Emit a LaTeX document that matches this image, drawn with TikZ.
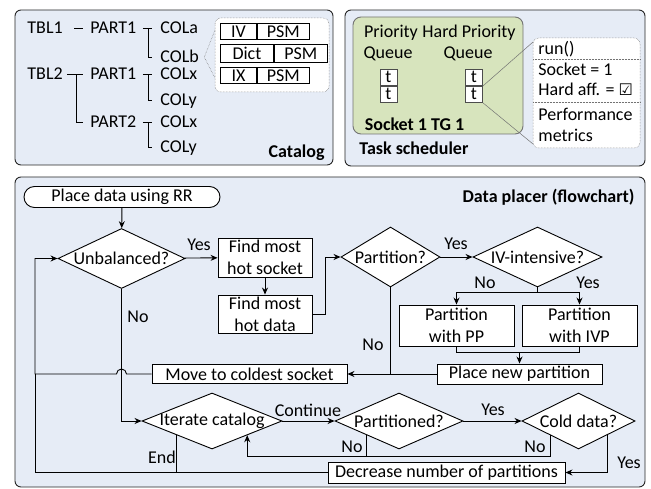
\documentclass[tikz,border=0pt]{standalone}
\usepackage{fontspec}
\setmainfont{Carlito}
\newfontfamily\checkfont{DejaVu Sans}
\usepackage{tikz}
\usetikzlibrary{arrows.meta}
\usetikzlibrary{shapes.geometric}
\usetikzlibrary{positioning}
\usetikzlibrary{calc}
\definecolor{panelblue}{RGB}{230,236,246}
\definecolor{tggreen}{RGB}{215,228,189}
\tikzset{>={Stealth[length=7pt,width=6pt]}, panel/.style={draw=black!85, fill=panelblue, rounded corners=6pt}, proc/.style={draw, fill=white, align=center}, dec/.style={diamond, draw, fill=white, aspect=1}, cellbox/.style={draw, fill=white, minimum height=16pt}, tcell/.style={draw=black!70, fill=white, minimum width=17pt, minimum height=16pt, text height=10pt, text depth=0pt}, callout/.style={draw=black!55, densely dotted, line width=0.5pt, fill=white, rounded corners=6pt}, colname/.style={anchor=base west, text height=11.6pt, text depth=0pt}}

\begin{document}
\begin{tikzpicture}[x=1pt, y=-1pt, line width=0.9pt, font=\fontsize{18}{22}\selectfont]
\tikzstyle{every node}+=[inner sep=0pt]
\useasboundingbox (0,0) rectangle (651,489);
\draw [panel] (15,10) rectangle (333,165);
\draw [panel] (345,10) rectangle (645,166);
\draw [panel] (15,177) rectangle (645,487);

\node [colname] (tbl1) at (27,34) {TBL1};
\node [colname] (p11) at (90,34) {PART1};
\node [colname] (cola) at (160,34) {COLa};
\node [colname] (colb) at (160,63) {COLb};
\node [colname] (tbl2) at (27,80) {TBL2};
\node [colname] (p21) at (90,80) {PART1};
\node [colname] (colx1) at (160,80) {COLx};
\node [colname] (coly1) at (160,106) {COLy};
\node [colname] (p22) at (90,128) {PART2};
\node [colname] (colx2) at (160,128) {COLx};
\node [colname] (coly2) at (160,153) {COLy};
\draw ([xshift=11pt]tbl1.east) -- ([xshift=-7pt]p11.west);
\draw ([xshift=6pt]p11.east) -- ([xshift=-8pt]cola.west);
\draw ($(p11.east)!0.5!(cola.west)$) |- ([xshift=-8pt]colb.west);
\draw ([xshift=4pt]tbl2.east) -- ([xshift=-7pt]p21.west);
\draw ($(tbl2.east)!0.5!(p21.west)$) |- ([xshift=-7pt]p22.west);
\draw ([xshift=6pt]p21.east) -- ([xshift=-8pt]colx1.west);
\draw ($(p21.east)!0.5!(colx1.west)$) |- ([xshift=-8pt]coly1.west);
\draw ([xshift=6pt]p22.east) -- ([xshift=-8pt]colx2.west);
\draw ($(p22.east)!0.5!(colx2.west)$) |- ([xshift=-8pt]coly2.west);
\draw [callout] (215,18) rectangle (329,92);
\draw [draw=black!55, densely dotted, line width=0.5pt] (215,30) -- ([xshift=5pt]colb.east) -- (215,78);
\node [cellbox, minimum width=36pt, anchor=north west] (iv) at (220,23) {IV};
\node [cellbox, minimum width=52pt, right=0pt of iv] (psma) {PSM};
\node [cellbox, minimum width=53pt, minimum height=18pt, anchor=north west] (dict) at (220,44) {Dict};
\node [cellbox, minimum width=53pt, minimum height=18pt, right=0pt of dict] (psmb) {PSM};
\node [cellbox, minimum width=36pt, anchor=north west] (ix) at (220,67) {IX};
\node [cellbox, minimum width=52pt, right=0pt of ix] (psmc) {PSM};
\node [anchor=base east, font=\fontsize{18}{22}\selectfont\bfseries] (catalog) at (325,158) {Catalog};

\draw [draw=black!55, fill=tggreen, rounded corners=8pt] (353,17) rectangle (523,134);
\node [anchor=base] (prio) at (391,38) {Priority};
\node [anchor=base] (hprio) at (469,38) {Hard Priority};
\node [anchor=base] (queuea) at (388,59) {Queue};
\node [anchor=base] (queueb) at (468,59) {Queue};
\node [tcell] (ta) at (388.5,77.5) {t};
\node [tcell, below=0pt of ta] (tb) {t};
\node [tcell] (tc) at (474,77.5) {t};
\node [tcell, below=0pt of tc] (td) {t};
\node [anchor=base, font=\fontsize{18}{22}\selectfont\bfseries] (sockettg) at (414.5,131) {Socket 1 TG 1};
\node [anchor=base west, font=\fontsize{18}{22}\selectfont\bfseries] (sched) at (359,155) {Task scheduler};
\draw [callout] (533,38) rectangle (640,148);
\draw [draw=black!55, densely dotted, line width=0.5pt] (533,59) -- (640,59) (533,102) -- (640,102);
\draw [draw=black!55, line width=0.5pt] (tc.south east) -- (533,42) (td.south east) -- (533,144);
\node [anchor=base west] (run) at (538,55) {run()};
\node [anchor=base west] (sockone) at (538,76) {Socket = 1};
\node [anchor=base west] (hardaff) at (538,96) {Hard aff. = {\checkfont\fontsize{16}{16}\selectfont ☑}};
\node [anchor=base west] (perf) at (538,121) {Performance};
\node [anchor=base west] (metrics) at (538,142) {metrics};

\node [anchor=base east, font=\fontsize{18}{22}\selectfont\bfseries] (placer) at (635,203) {Data placer (flowchart)};
\node [proc, rounded corners=10.5pt, minimum width=196pt, minimum height=21pt] (start) at (122,197) {Place data using RR};
\node [dec, minimum width=127pt, minimum height=60pt] (unbal) at (121.5,258.5) {\makebox[0pt]{Unbalanced?}};
\node [proc, minimum width=94pt, minimum height=39pt] (hotsock) at (265,257.5) {Find most\\hot socket};
\node [proc, minimum width=94pt, minimum height=38pt] (hotdata) at (265,314) {Find most\\hot data};
\node [dec, minimum width=99pt, minimum height=60pt] (part) at (390.5,257) {\makebox[0pt]{Partition?}};
\node [dec, minimum width=129pt, minimum height=60pt] (ivint) at (537.5,257) {\makebox[0pt]{IV-intensive?}};
\node [proc, minimum width=115pt, minimum height=41pt] (pp) at (456.5,325.5) {Partition\\with PP};
\node [proc, minimum width=115pt, minimum height=41pt] (ivp) at (579.5,325.5) {Partition\\with IVP};
\node [proc, minimum width=165pt, minimum height=20pt] (place) at (519.5,374) {Place new partition};
\node [proc, minimum width=195pt, minimum height=19pt] (move) at (249.5,374) {Move to coldest socket};
\node [dec, minimum width=140pt, minimum height=56pt] (iter) at (212,421) {\makebox[0pt]{Iterate catalog}};
\node [dec, minimum width=128pt, minimum height=56pt] (parted) at (399,421) {\makebox[0pt]{Partitioned?}};
\node [dec, minimum width=113pt, minimum height=56pt] (cold) at (578.5,421) {\makebox[0pt]{Cold data?}};
\node [proc, minimum width=237pt, minimum height=21pt] (dec) at (446.5,472.5) {Decrease number of partitions};
\coordinate (loop) at (35,0);
\coordinate (merge) at ($(pp.south)+(0,6)$);

\draw [->] (start) -- (unbal);
\draw [->] (unbal) -- (hotsock);
\draw [->] (hotsock) -- (hotdata);
\draw [->] (hotdata.east) -- ++(13,0) |- (part.west);
\draw [->] (part) -- (ivint);
\draw (ivint.south) -- ++(0,5) coordinate (fork);
\draw [->] (fork) -| (pp.north);
\draw [->] (fork) -| (ivp.north);
\draw (pp.south) -- (merge) -| (ivp.south);
\draw [->] (merge -| place.north) -- (place.north);
\draw [->] (place) -- (move);
\draw (part.south) -- (part.south |- place.west);
\draw [->] (move.west) -- ($(unbal.south |- move.west)+(5,0)$) arc [start angle=0, end angle=-180, radius=5] -- (loop |- move.west) |- (unbal.west);
\draw [->] (unbal.south) |- (iter.west);
\draw [->] (iter) -- (parted);
\draw [->] (parted) -- (cold);
\draw [->] (parted.south west) -- ($(parted.south west)+(0,21)$) -- ($(iter.south east)+(0,21)$) -- (iter.south east);
\draw (cold.south west) -- ($(cold.south west)+(0,21)$) -- ($(parted.south west)+(0,21)$);
\draw [->] (cold.south east) |- (dec.east);
\draw (dec.west) -| (loop |- move.west);
\draw (iter.south west) -- (iter.south west |- dec.west);

\node (yesa) at (199,245) {Yes};
\node (yesb) at (456,244) {Yes};
\node (noa) at (485,283) {No};
\node (yesc) at (588,283) {Yes};
\node (nob) at (373,345) {No};
\node (noc) at (138,317) {No};
\node (cont) at (308,410) {Continue};
\node (yesd) at (493,410) {Yes};
\node (nod) at (352,447) {No};
\node (noe) at (535,447) {No};
\node (yese) at (629,463) {Yes};
\node (endl) at (162,457) {End};
\end{tikzpicture}
\end{document}
